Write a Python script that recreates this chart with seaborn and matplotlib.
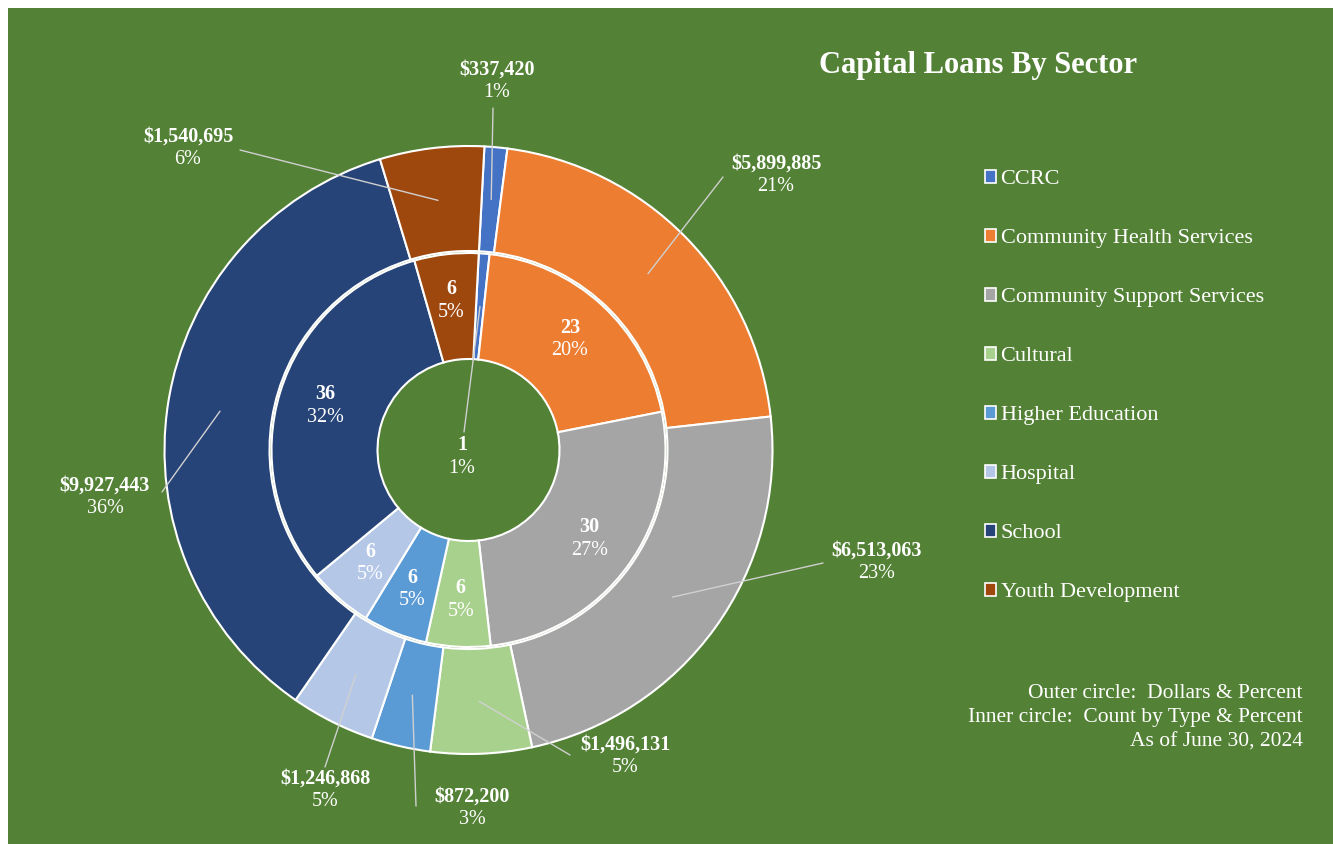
import numpy as np
import matplotlib
matplotlib.use("Agg")
import matplotlib.pyplot as plt
import seaborn as sns
from matplotlib.patches import Patch

sns.set_style("white")
plt.rcParams['font.family'] = ['Liberation Serif', 'DejaVu Serif']

# data
sectors = ['CCRC', 'Community Health Services', 'Community Support Services', 'Cultural',
           'Higher Education', 'Hospital', 'School', 'Youth Development']
dollars = [337420, 5899885, 6513063, 1496131, 872200, 1246868, 9927443, 1540695]
dollar_pct = ['1%', '21%', '23%', '5%', '3%', '5%', '36%', '6%']
counts = [1, 23, 30, 6, 6, 6, 36, 6]
count_pct = ['1%', '20%', '27%', '5%', '5%', '5%', '32%', '5%']
colors = ['#4472C4', '#ED7D31', '#A5A5A5', '#A9D18E', '#5B9BD5', '#B4C7E7', '#264478', '#9E480E']

W, H = 1333, 844
GREEN = '#538135'
LEADER = '#D0D0D0'

def P(x, y):
    # image pixel coords -> data coords
    return x, H - y

fig = plt.figure(figsize=(W / 100, H / 100), dpi=100, facecolor=GREEN)
ax = fig.add_axes([0, 0, 1, 1])
ax.patch.set_visible(False)

cx, cy = P(468.5, 450)
r_out, r_mid_out, r_in, r_hole = 304, 199, 197, 91
start = 87

wp = dict(edgecolor='white', linewidth=1.5)
ax.pie(dollars, colors=colors, radius=r_out, center=(cx, cy), startangle=start,
       counterclock=False, wedgeprops=dict(width=r_out - r_mid_out, **wp), frame=True)
ax.pie(counts, colors=colors, radius=r_in, center=(cx, cy), startangle=start,
       counterclock=False, wedgeprops=dict(width=r_in - r_hole, **wp), frame=True)
ax.set_xlim(0, W)
ax.set_ylim(0, H)
ax.set_aspect('equal')
ax.axis('off')

# white margin on top and left like the screenshot
ax.axvspan(0, 8, facecolor='white', linewidth=0, zorder=0.5)
ax.axhspan(H - 8, H, facecolor='white', linewidth=0, zorder=0.5)


def mid_angles(vals):
    v = np.array(vals, dtype=float)
    frac = v / v.sum()
    cum = np.cumsum(frac) - frac / 2
    return np.deg2rad(start - cum * 360)


def two_line(x, y, top, bottom, size=14.5):
    ax.text(x, y + 11.5, top, ha='center', va='center', color='white', fontsize=size,
            fontweight='bold', zorder=5)
    ax.text(x, y - 11.5, bottom, ha='center', va='center', color='white', fontsize=size,
            zorder=5)


# outer labels (layout positions in image pixels)
out_label_pos = [(497, 81), (776, 175), (877, 562), (625, 756), (472, 808), (325, 790),
                 (105, 497), (188, 148)]
out_leader_end = [(493, 108), (723, 177), (823, 563), (570, 755), (416, 806), (325, 767),
                  (162, 492), (240, 150)]
ang = mid_angles(dollars)
r_lab = (r_out + r_mid_out) / 2
for i in range(len(sectors)):
    ax0 = cx + r_lab * np.cos(ang[i])
    ay0 = cy + r_lab * np.sin(ang[i])
    ex, ey = P(*out_leader_end[i])
    ax.plot([ax0, ex], [ay0, ey], color=LEADER, lw=1, zorder=4)
    lx, ly = P(*out_label_pos[i])
    two_line(lx, ly, f"${dollars[i]:,}", dollar_pct[i])

# inner labels
ang_in = mid_angles(counts)
r_lab_in = 150
for i in range(len(sectors)):
    if i == 0:
        ax0 = cx + (r_in + r_hole) / 2 * np.cos(ang_in[i])
        ay0 = cy + (r_in + r_hole) / 2 * np.sin(ang_in[i])
        ex, ey = P(464, 432)
        ax.plot([ax0, ex], [ay0, ey], color=LEADER, lw=1, zorder=4)
        lx, ly = P(462, 457)
    else:
        lx = cx + r_lab_in * np.cos(ang_in[i])
        ly = cy + r_lab_in * np.sin(ang_in[i])
    two_line(lx, ly, str(counts[i]), count_pct[i])

# title
ax.text(*P(978, 66), "Capital Loans By Sector", ha='center', va='center', color='white',
        fontsize=22, fontweight='bold')

# legend
handles = [Patch(facecolor=c, edgecolor='white', linewidth=1.2) for c in colors]
leg = ax.legend(handles, sectors, loc='upper left', bbox_to_anchor=(985 / W, 1 - 170 / H),
                bbox_transform=fig.transFigure, frameon=False, fontsize=16,
                handlelength=0.5, handleheight=0.5, handletextpad=0.2, labelspacing=1.79,
                borderaxespad=0, borderpad=0)
for t in leg.get_texts():
    t.set_color('white')

# notes
notes = ["Outer circle:  Dollars & Percent", "Inner circle:  Count by Type & Percent",
         "As of June 30, 2024"]
for k, line in enumerate(notes):
    ax.text(*P(1303, 693 + 24.5 * k), line, ha='right', va='center', color='white', fontsize=15.5)

fig.savefig("out.png", dpi=100, facecolor=GREEN)
